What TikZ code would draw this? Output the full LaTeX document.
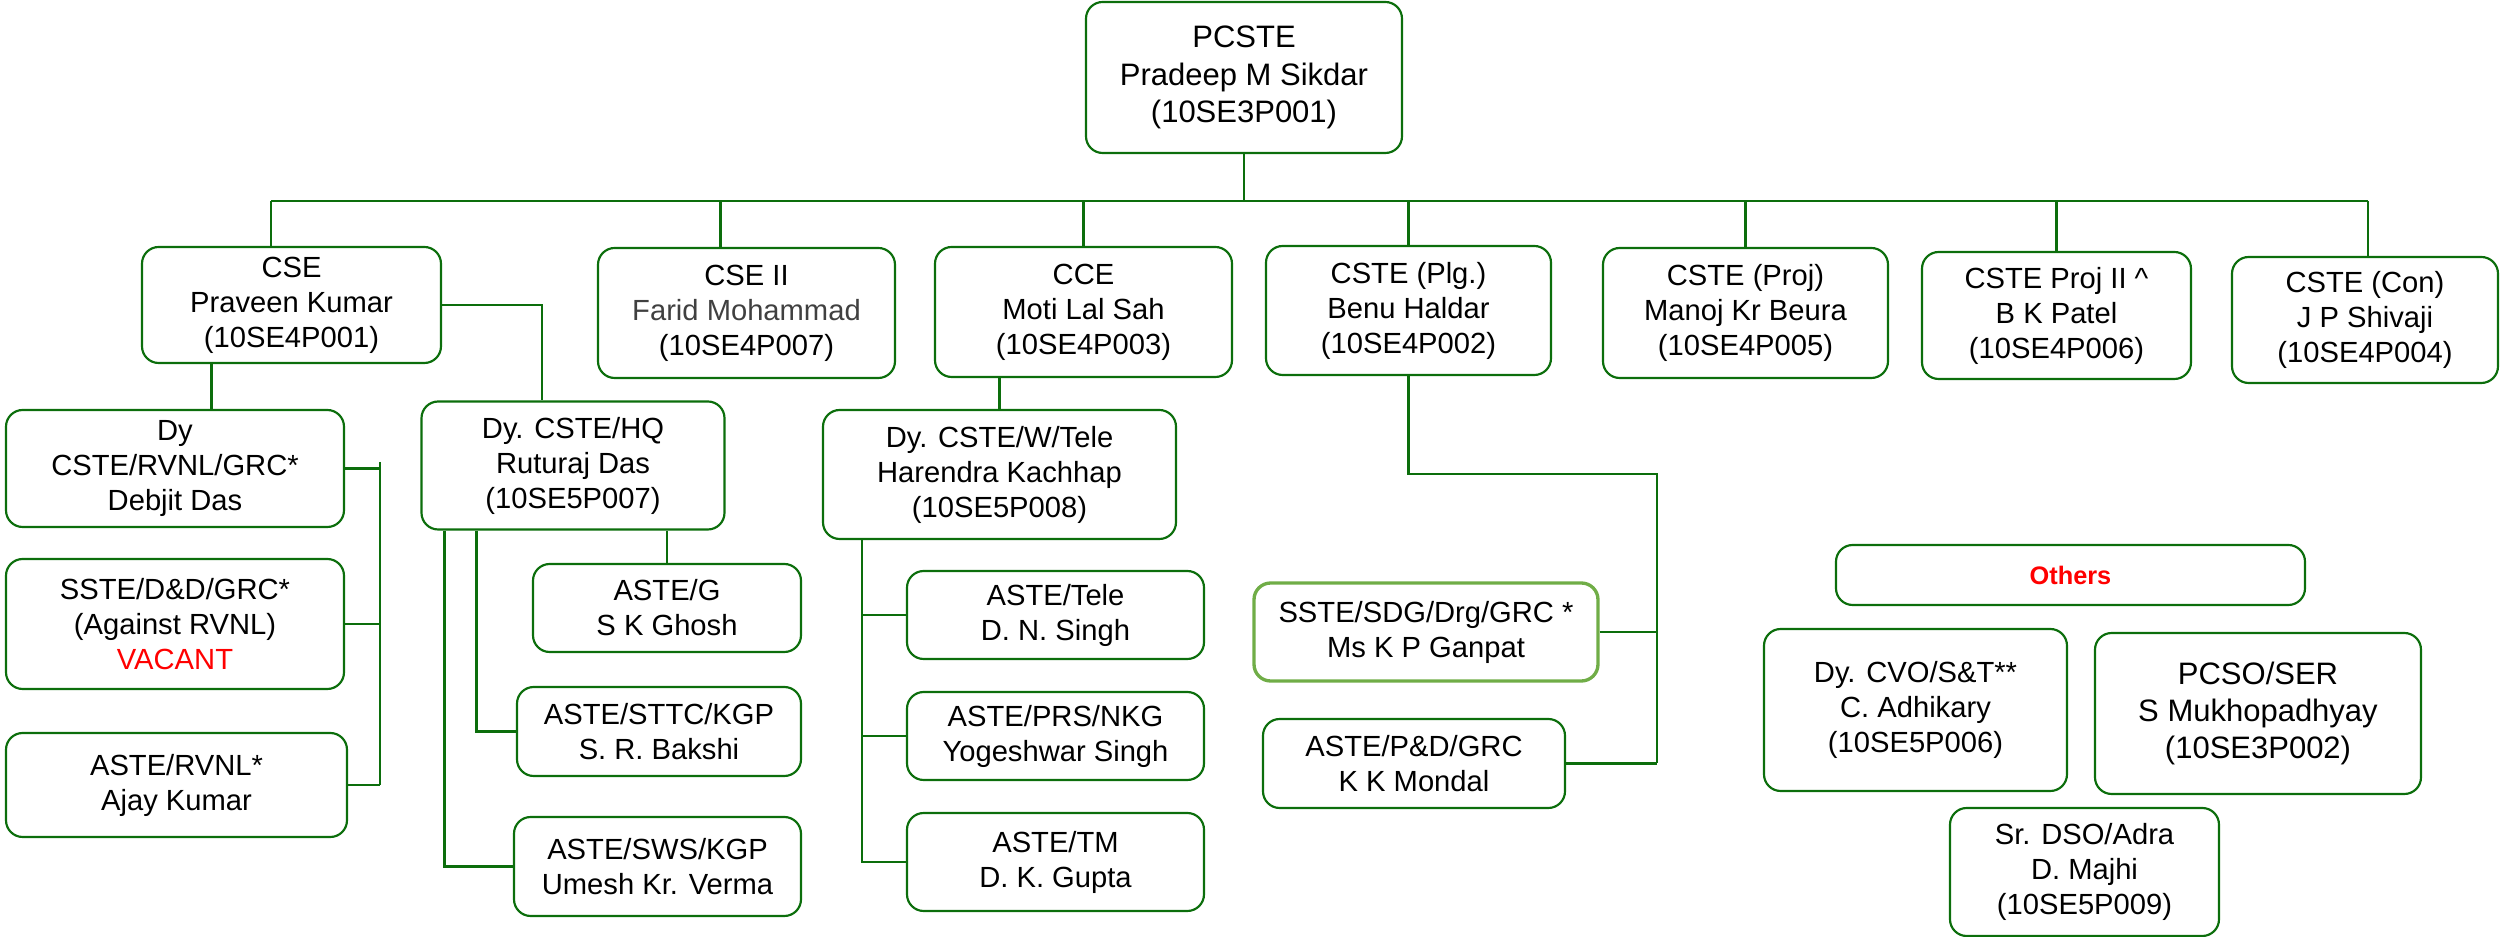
\documentclass[tikz,border=0pt]{standalone}
\usepackage{fontspec}
\setmainfont{Liberation Sans}
\usetikzlibrary{calc}

\definecolor{linegreen}{RGB}{12,110,12}
\definecolor{lightgreen}{RGB}{112,173,71}
\definecolor{namegray}{RGB}{64,64,64}

\tikzset{
post/.style={
  rectangle,
  draw=linegreen,
  line width=0.65pt,
  rounded corners=5pt,
  text centered,
  align=center,
  inner sep=0pt,
  font=\fontsize{8.75}{10.5}\selectfont,
},
postbig/.style={
  post,
  font=\fontsize{9.3}{11.2}\selectfont,
},
link/.style={draw=linegreen, line width=0.65pt},
busline/.style={draw=linegreen, line width=0.85pt},
}

\begin{document}
\begin{tikzpicture}[x=0.3pt, y=-0.3pt]
\useasboundingbox (0,0) rectangle (2509,937);

%top
\node[postbig, minimum width=94.8pt, minimum height=45.3pt](PCSTE) at (1244,77.5) {PCSTE\\Pradeep M Sikdar\\(10SE3P001)};

%first level
\node[post, minimum width=89.7pt, minimum height=34.8pt](CSE) at (291.5,305) {CSE\\Praveen Kumar\\(10SE4P001)};
\node[post, minimum width=89.1pt, minimum height=39pt](CSEII) at (746.5,313) {CSE II\\{\color{namegray}Farid Mohammad}\\(10SE4P007)};
\node[post, minimum width=89.1pt, minimum height=39pt](CCE) at (1083.5,312) {CCE\\Moti Lal Sah\\(10SE4P003)};
\node[post, minimum width=85.5pt, minimum height=38.7pt](CSTEPlg) at (1408.5,310.5) {CSTE (Plg.)\\Benu Haldar\\(10SE4P002)};
\node[post, minimum width=85.5pt, minimum height=39pt](CSTEProj) at (1745.5,313) {CSTE (Proj)\\Manoj Kr Beura\\(10SE4P005)};
\node[post, minimum width=80.7pt, minimum height=38.1pt](CSTEProjII) at (2056.5,315.5) {CSTE Proj II \textasciicircum\\B K Patel\\(10SE4P006)};
\node[post, minimum width=79.8pt, minimum height=37.8pt](CSTECon) at (2365,320) {CSTE (Con)\\J P Shivaji\\(10SE4P004)};

%under CSE
\node[post, minimum width=101.4pt, minimum height=35.1pt](DyRVNL) at (175,468.5) {Dy\\CSTE/RVNL/GRC*\\Debjit Das};
\node[post, minimum width=101.4pt, minimum height=39pt](SSTEDD) at (175,624) {SSTE/D\&D/GRC*\\(Against RVNL)\\{\color{red}VACANT}};
\node[post, minimum width=102.3pt, minimum height=31.2pt](ASTERVNL) at (176.5,785) {ASTE/RVNL*\\Ajay Kumar};
\node[post, minimum width=90.9pt, minimum height=38.4pt](DyHQ) at (573,465.5) {Dy. CSTE/HQ\\Ruturaj Das\\(10SE5P007)};
\node[post, minimum width=80.4pt, minimum height=26.4pt](ASTEG) at (667,608) {ASTE/G\\S K Ghosh};
\node[post, minimum width=85.2pt, minimum height=26.7pt](ASTESTTC) at (659,731.5) {ASTE/STTC/KGP\\S. R. Bakshi};
\node[post, minimum width=86.1pt, minimum height=29.7pt](ASTESWS) at (657.5,866.5) {ASTE/SWS/KGP\\Umesh Kr. Verma};

%under CCE
\node[post, minimum width=105.9pt, minimum height=38.7pt](DyTele) at (999.5,474.5) {Dy. CSTE/W/Tele\\Harendra Kachhap\\(10SE5P008)};
\node[post, minimum width=89.1pt, minimum height=26.4pt](ASTETele) at (1055.5,615) {ASTE/Tele\\D. N. Singh};
\node[post, minimum width=89.1pt, minimum height=26.4pt](ASTEPRS) at (1055.5,736) {ASTE/PRS/NKG\\Yogeshwar Singh};
\node[post, minimum width=89.1pt, minimum height=29.4pt](ASTETM) at (1055.5,862) {ASTE/TM\\D. K. Gupta};

%under CSTE (Plg.)
\node[post, draw=lightgreen, line width=1pt, minimum width=103.2pt, minimum height=29.4pt](SSTESDG) at (1426,632) {SSTE/SDG/Drg/GRC *\\Ms K P Ganpat};
\node[post, minimum width=90.6pt, minimum height=26.7pt](ASTEPD) at (1414,763.5) {ASTE/P\&D/GRC\\K K Mondal};

%others
\node[post, minimum width=140.7pt, minimum height=18pt, font=\fontsize{7.6}{9}\selectfont\bfseries, text=red](Others) at (2070.5,575) {Others};
\node[post, minimum width=90.9pt, minimum height=48.6pt](DyCVO) at (1915.5,710) {Dy. CVO/S\&T**\\C. Adhikary\\(10SE5P006)};
\node[postbig, minimum width=97.8pt, minimum height=48.3pt](PCSO) at (2258,713.5) {PCSO/SER\\S Mukhopadhyay\\(10SE3P002)};
\node[post, minimum width=80.7pt, minimum height=38.4pt](SrDSO) at (2084.5,872) {Sr. DSO/Adra\\D. Majhi\\(10SE5P009)};

%bus
\coordinate (busL) at (271,201);
\coordinate (busR) at (2368,201);
\draw[busline] (busL) -- (busR);
\draw[link] (PCSTE.south) -- (PCSTE.south |- busL);
\draw[link] (busL) -- (busL |- CSE.north);
\coordinate (cseIIdrop) at ($(CSEII.north)+(-26,0)$);
\draw[link] (cseIIdrop |- busL) -- (cseIIdrop);
\draw[link] (CCE.north |- busL) -- (CCE.north);
\draw[link] (CSTEPlg.north |- busL) -- (CSTEPlg.north);
\draw[link] (CSTEProj.north |- busL) -- (CSTEProj.north);
\draw[link] (CSTEProjII.north |- busL) -- (CSTEProjII.north);
\draw[link] (busR) -- (busR |- CSTECon.north);

%CSE branch
\coordinate (cseDown) at ($(CSE.south)+(-80,0)$);
\draw[link] (cseDown) -- (cseDown |- DyRVNL.north);
\coordinate (hqTop) at ($(DyHQ.north)+(-31,0)$);
\draw[link] (CSE.east) -| (hqTop);
\coordinate (rvnlTop) at (380,462);
\draw[link] (rvnlTop) -- (rvnlTop |- ASTERVNL.east);
\draw[link] (DyRVNL.east) -- (DyRVNL.east -| rvnlTop);
\draw[link] (SSTEDD.east) -- (SSTEDD.east -| rvnlTop);
\draw[link] (ASTERVNL.east) -- (ASTERVNL.east -| rvnlTop);

%HQ branch
\coordinate (hqA) at ($(DyHQ.south west)+(24,0)$);
\coordinate (hqB) at ($(DyHQ.south west)+(56,0)$);
\draw[link] (hqA) |- (ASTESWS.west);
\draw[link] (hqB) |- (ASTESTTC.west);
\draw[link] (DyHQ.south -| ASTEG.north) -- (ASTEG.north);

%CCE branch
\draw[link] (CCE.south -| DyTele.north) -- (DyTele.north);
\coordinate (teleA) at ($(DyTele.south west)+(40,0)$);
\draw[link] (teleA) |- (ASTETM.west);
\draw[link] (ASTETele.west) -- (ASTETele.west -| teleA);
\draw[link] (ASTEPRS.west) -- (ASTEPRS.west -| teleA);

%Plg branch
\coordinate (plgA) at (1657,474);
\draw[link] (CSTEPlg.south) |- (plgA) -- (plgA |- ASTEPD.east);
\draw[link] (SSTESDG.east) -- (SSTESDG.east -| plgA);
\draw[link] (ASTEPD.east) -- (ASTEPD.east -| plgA);

\end{tikzpicture}
\end{document}
